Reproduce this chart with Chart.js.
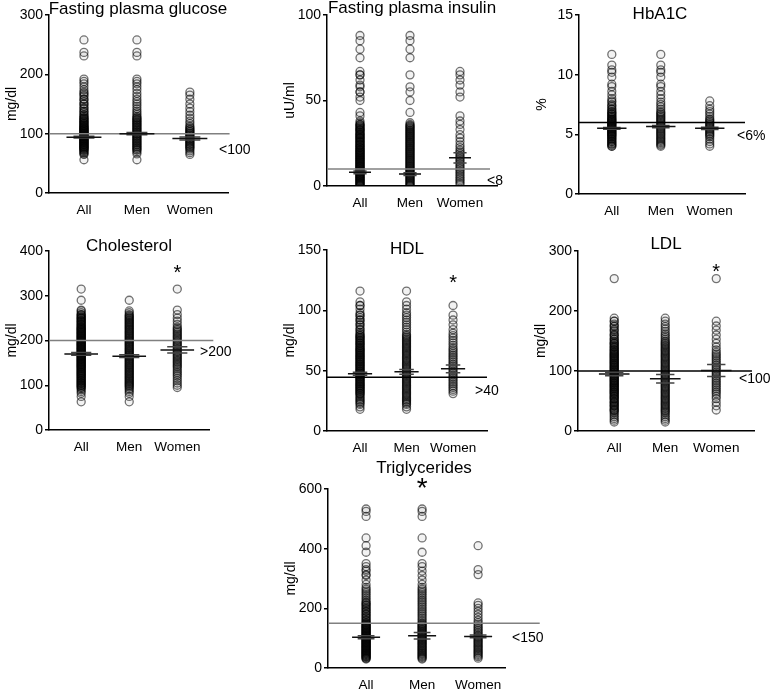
<!DOCTYPE html>
<html>
<head>
<meta charset="utf-8">
<title>Glucose, insulin, HbA1C and lipids by sex</title>
<script src="https://cdn.jsdelivr.net/npm/chart.js@4.4.1/dist/chart.umd.min.js"></script>
<style>
  body { margin: 0; background: #fff; overflow: hidden; }
  #wrap { position: relative; width: 777px; height: 689px; overflow: hidden; }
  #wrap canvas { position: absolute; left: 0; top: 0; }
</style>
</head>
<body>
<div id="wrap"></div>
<script>
const groups = ['All', 'Men', 'Women'];

// Fasting plasma glucose (mg/dl)
const glucoseTicks = [0, 100, 200, 300];
const glucoseMen = [258, 237, 231, 192, 188, 184, 179, 174, 168, 163, 158, 154, 150, 146, 142, 138, 135, 132, 129, 127, 126, 124, 123, 121, 120, 118, 117, 115, 114, 112, 111, 109, 108, 106, 105, 103, 102, 100, 99, 97, 96, 94, 93, 91, 90, 88, 87, 85, 84, 82, 81, 79, 78, 76, 75, 73, 72, 69, 66, 56];
const glucoseWomen = [170, 165, 158, 150, 143, 137, 131, 126, 121, 117, 113, 111, 109, 107, 106, 104, 103, 101, 100, 98, 97, 95, 94, 92, 91, 89, 88, 86, 85, 83, 82, 80, 79, 77, 76, 74, 71, 68, 65];
const glucoseMean = [94, 100, 92];
const glucoseSem = [1.5, 2, 2.5];
const glucoseRef = 100;

// Fasting plasma insulin (uU/ml)
const insulinTicks = [0, 50, 100];
const insulinMen = [88, 85, 80, 75, 65, 58, 55, 50, 43, 37, 36, 35.5, 35, 34.5, 34, 33.5, 33, 32.5, 32, 31.5, 31, 30.5, 30, 29.5, 29, 28.5, 28, 27.5, 27, 26.5, 26, 25.5, 25, 24.5, 24, 23.5, 23, 22.5, 22, 21.5, 21, 20.5, 20, 19.5, 19, 18.5, 18, 17.5, 17, 16.5, 16, 15.5, 15, 14.5, 14, 13.5, 13, 12.5, 12, 11.5, 11, 10.5, 10, 9.5, 9, 8.5, 8, 7.5, 7, 6.5, 6, 5.5, 5, 4.5, 4, 3.5, 3, 2.5, 2, 1.5, 1, 0.5, 0];
const insulinWomen = [67, 65, 62, 59, 55, 52, 41, 38, 36, 33, 30, 28, 26, 24, 22.5, 21, 20, 19, 18, 17, 16, 15, 14, 13, 12, 11, 10, 9, 8, 7, 6, 5, 4, 3, 2, 1];
const insulinMean = [8, 7, 16.5];
const insulinSem = [0.8, 0.8, 3];
const insulinRef = 10;

// HbA1C (%)
const hba1cTicks = [0, 5, 10, 15];
const hba1cMen = [11.7, 10.8, 10.4, 10.2, 9.8, 9.2, 9.0, 8.6, 8.3, 8.0, 7.7, 7.5, 7.3, 7.1, 6.9, 6.8, 6.7, 6.6, 6.5, 6.4, 6.3, 6.2, 6.1, 6.0, 5.9, 5.8, 5.7, 5.6, 5.5, 5.4, 5.3, 5.2, 5.1, 5.0, 4.9, 4.8, 4.7, 4.6, 4.5, 4.4, 4.3, 4.2, 4.1, 4.0];
const hba1cWomen = [7.8, 7.4, 7.1, 6.9, 6.7, 6.5, 6.3, 6.2, 6.1, 6.0, 5.9, 5.8, 5.7, 5.6, 5.5, 5.4, 5.3, 5.2, 5.1, 5.0, 4.9, 4.8, 4.6, 4.4, 4.2, 4.0];
const hba1cMean = [5.5, 5.65, 5.5];
const hba1cSem = [0.08, 0.1, 0.1];
const hba1cRef = 6;

// Cholesterol (mg/dl)
const cholTicks = [0, 100, 200, 300, 400];
const cholMen = [290, 266, 262, 258, 256, 254, 252, 250, 248, 246, 244, 242, 240, 238, 236, 234, 232, 230, 228, 226, 224, 222, 220, 218, 216, 214, 212, 210, 208, 206, 204, 202, 200, 198, 196, 194, 192, 190, 188, 186, 184, 182, 180, 178, 176, 174, 172, 170, 168, 166, 164, 162, 160, 158, 156, 154, 152, 150, 148, 146, 144, 142, 140, 138, 136, 134, 132, 130, 128, 126, 124, 122, 120, 118, 116, 114, 112, 110, 108, 106, 104, 102, 100, 98, 96, 93, 90, 86, 82, 75, 63];
const cholWomen = [315, 268, 258, 250, 243, 236, 230, 227, 224, 221, 218, 215, 212, 209, 206, 203, 200, 197, 194, 191, 188, 185, 182, 179, 176, 173, 170, 167, 164, 161, 158, 155, 152, 149, 146, 143, 140, 136, 132, 128, 124, 120, 115, 110, 105, 100, 95];
const cholMean = [170, 165, 179];
const cholSem = [3, 3, 7];
const cholRef = 200;
const cholStar = [2, 364];

// HDL (mg/dl)
const hdlTicks = [0, 50, 100, 150];
const hdlMen = [116, 107, 104, 101, 98, 96, 94, 92, 90, 88, 86, 84, 82, 80, 79, 78, 77, 76, 75, 74, 73, 72, 71, 70, 69, 68, 67, 66, 65, 64, 63, 62, 61, 60, 59, 58, 57, 56, 55, 54, 53, 52, 51, 50, 49, 48, 47, 46, 45, 44, 43, 42, 41, 40, 39, 38, 37, 36, 35, 34, 33, 32, 31, 30, 29, 28, 27, 26, 25, 24, 23, 22, 20, 18];
const hdlWomen = [104, 96, 92, 88, 84, 81, 79, 77, 75, 73, 71, 69, 67.5, 66, 64.5, 63, 61.5, 60, 58.5, 57, 55.5, 54, 52.5, 51, 49.5, 48, 46.5, 45, 43.5, 42, 40.5, 39, 37.5, 36, 34.5, 33, 31];
const hdlMean = [47.5, 49, 51.5];
const hdlSem = [1.2, 2, 3.2];
const hdlRef = 44.5;
const hdlStar = [2, 127];

// LDL (mg/dl)
const ldlTicks = [0, 100, 200, 300];
const ldlMen = [188, 183, 178, 174, 170, 166, 162, 159, 156, 153, 150, 148, 146, 144, 142, 140, 138, 136, 134, 132, 130, 128, 126, 124, 122, 120, 118, 116, 114, 112, 110, 108, 106, 104, 102, 100, 98, 96, 94, 92, 90, 88, 86, 84, 82, 80, 78, 76, 74, 72, 70, 68, 66, 64, 62, 60, 58, 56, 54, 52, 50, 48, 46, 44, 42, 40, 38, 36, 34, 32, 30, 27, 24, 21, 18, 15];
const ldlWomen = [254, 183, 175, 168, 160, 153, 146, 140, 135, 131, 128, 125, 122, 119, 116, 113, 110, 107, 104, 101, 98, 95, 92, 89, 86, 83, 80, 77, 74, 71, 68, 65, 62, 58, 54, 48, 42, 35];
const ldlMean = [95, 87, 101];
const ldlSem = [3, 7, 10];
const ldlRef = 100;
const ldlStar = [2, 275];

// Triglycerides (mg/dl)
const trigTicks = [0, 200, 400, 600];
const trigMen = [533, 525, 508, 436, 388, 350, 340, 325, 310, 295, 280, 270, 264, 258, 252, 246, 240, 234, 228, 222, 216, 210, 204, 198, 192, 186, 180, 174, 168, 162, 156, 150, 147, 144, 141, 138, 135, 132, 129, 126, 123, 120, 117, 114, 111, 108, 105, 102, 99, 96, 93, 90, 87, 84, 81, 78, 75, 72, 69, 66, 63, 60, 57, 54, 51, 48, 45, 42, 39, 36, 33, 30];
const trigWomen = [410, 330, 313, 218, 210, 200, 190, 180, 170, 160, 152, 146, 140, 135, 130, 125, 120, 115, 110, 106, 102, 98, 94, 90, 86, 82, 78, 74, 70, 66, 62, 58, 54, 50, 46, 42, 38, 33];
const trigMean = [103, 108, 106];
const trigSem = [5, 11, 5];
const trigRef = 150;
const trigStar = [1, 628];

const FONT = '"Liberation Sans", Arial, Helvetica, sans-serif';
Chart.defaults.font.family = FONT;
Chart.defaults.color = '#000';

const W = 777, H = 720; // canvas is a bit taller than the window so the bottom labels fit
const YW = 45; // fixed width of the y scale box
const XH = 28; // fixed height of the x scale box

const panels = [
  { title: 'Fasting plasma glucose', unit: 'mg/dl', ticks: glucoseTicks, men: glucoseMen, women: glucoseWomen,
    mean: glucoseMean, sem: glucoseSem, ref: glucoseRef, refLabel: '<100', star: null,
    box: [49, 15, 228, 193], xMin: -0.66, xMax: 2.72, refEnd: 2.75, half: 0.33, refColor: '#808080',
    titleAt: [138, 13.5], labelAt: [219, 150] },
  { title: 'Fasting plasma insulin', unit: 'uU/ml', ticks: insulinTicks, men: insulinMen, women: insulinWomen,
    mean: insulinMean, sem: insulinSem, ref: insulinRef, refLabel: '<8', star: null,
    box: [327, 15, 497, 186], xMin: -0.66, xMax: 2.74, refEnd: 2.6, half: 0.22, refColor: '#808080',
    titleAt: [412, 12.7], labelAt: [487, 181] },
  { title: 'HbA1C', unit: '%', ticks: hba1cTicks, men: hba1cMen, women: hba1cWomen,
    mean: hba1cMean, sem: hba1cSem, ref: hba1cRef, refLabel: '<6%', star: null,
    box: [579, 15, 745, 194], xMin: -0.67, xMax: 2.72, refEnd: 2.72, half: 0.3, refColor: '#000',
    titleAt: [660, 19.3], labelAt: [737, 136] },
  { title: 'Cholesterol', unit: 'mg/dl', ticks: cholTicks, men: cholMen, women: cholWomen,
    mean: cholMean, sem: cholSem, ref: cholRef, refLabel: '>200', star: cholStar,
    box: [49, 251, 209, 430], xMin: -0.67, xMax: 2.66, refEnd: 2.75, half: 0.35, refColor: '#808080',
    titleAt: [129, 250.7], labelAt: [200, 352], starSize: 20 },
  { title: 'HDL', unit: 'mg/dl', ticks: hdlTicks, men: hdlMen, women: hdlWomen,
    mean: hdlMean, sem: hdlSem, ref: hdlRef, refLabel: '>40', star: hdlStar,
    box: [327, 250, 487, 431], xMin: -0.71, xMax: 2.73, refEnd: 2.73, half: 0.26, refColor: '#000',
    titleAt: [407, 254], labelAt: [475, 391], starSize: 20 },
  { title: 'LDL', unit: 'mg/dl', ticks: ldlTicks, men: ldlMen, women: ldlWomen,
    mean: ldlMean, sem: ldlSem, ref: ldlRef, refLabel: '<100', star: ldlStar,
    box: [578, 251, 754, 431], xMin: -0.71, xMax: 2.74, refEnd: 2.7, half: 0.3, refColor: '#000',
    titleAt: [666, 249.3], labelAt: [739, 379], starSize: 20 },
  { title: 'Triglycerides', unit: 'mg/dl', ticks: trigTicks, men: trigMen, women: trigWomen,
    mean: trigMean, sem: trigSem, ref: trigRef, refLabel: '<150', star: trigStar,
    box: [328, 489, 505, 668], xMin: -0.68, xMax: 2.48, refEnd: 3.1, half: 0.25, refColor: '#808080',
    titleAt: [424, 472.7], labelAt: [512, 638], starSize: 28 },
];

// short horizontal segments, one per group, split by null gaps
function segments(levels, half) {
  const out = [];
  levels.forEach((y, g) => {
    out.push({ x: g - half, y: y }, { x: g + half, y: y }, { x: g, y: null });
  });
  return out;
}

function buildPanel(p) {
  const canvas = document.createElement('canvas');
  canvas.width = W;
  canvas.height = H;
  document.getElementById('wrap').appendChild(canvas);

  const points = [];
  [p.men.concat(p.women), p.men, p.women].forEach((vals, g) => {
    vals.forEach(v => points.push({ x: g, y: v }));
  });
  const upper = p.mean.map((m, i) => m + p.sem[i]);
  const lower = p.mean.map((m, i) => m - p.sem[i]);
  const [left, top, right, bottom] = p.box;

  new Chart(canvas, {
    type: 'scatter',
    data: {
      datasets: [
        { type: 'line', data: segments(p.mean, p.half), borderColor: '#111', borderWidth: 1.5,
          pointRadius: 0, spanGaps: false, order: 0 },
        { type: 'line', data: segments(upper, p.half * 0.6).concat(segments(lower, p.half * 0.6)),
          borderColor: '#444', borderWidth: 1.5, pointRadius: 0, spanGaps: false, order: 1 },
        { type: 'line', data: [{ x: p.xMin, y: p.ref }, { x: p.refEnd, y: p.ref }],
          borderColor: p.refColor, borderWidth: 1.5, pointRadius: 0, clip: false, order: 2 },
        { data: points, pointRadius: 4, pointBorderWidth: 1.3,
          pointBorderColor: 'rgba(0,0,0,0.55)', pointBackgroundColor: 'rgba(0,0,0,0.05)', order: 3 },
      ],
    },
    options: {
      responsive: false,
      animation: false,
      events: [],
      layout: { padding: { left: left - YW, top: top, right: W - right, bottom: H - bottom - XH } },
      plugins: { legend: { display: false }, tooltip: { enabled: false } },
      scales: {
        x: {
          type: 'linear', min: p.xMin, max: p.xMax,
          afterBuildTicks: s => { s.ticks = groups.map((_, i) => ({ value: i })); },
          afterFit: s => { s.height = XH; },
          ticks: { callback: v => groups[v], font: { size: 13.5 }, padding: 9, autoSkip: false, maxRotation: 0 },
          grid: { display: false, drawTicks: false },
          border: { color: '#000', width: 1.5 },
        },
        y: {
          min: 0, max: p.ticks[p.ticks.length - 1],
          afterBuildTicks: s => { s.ticks = p.ticks.map(v => ({ value: v })); },
          afterFit: s => { s.width = YW; },
          ticks: { font: { size: 14 }, padding: 2 },
          grid: { drawOnChartArea: false, tickLength: 4, color: '#000', lineWidth: 1.5 },
          border: { color: '#000', width: 1.5 },
          title: { display: true, text: p.unit, font: { size: 14 }, padding: 0 },
        },
      },
    },
    plugins: [{
      id: 'panelText',
      afterDraw(chart) {
        const { ctx, scales } = chart;
        ctx.save();
        ctx.fillStyle = '#000';
        ctx.font = '17px ' + FONT;
        ctx.textAlign = 'center';
        ctx.textBaseline = 'alphabetic';
        ctx.fillText(p.title, p.titleAt[0], p.titleAt[1]);

        ctx.font = '14px ' + FONT;
        ctx.textAlign = 'left';
        ctx.textBaseline = 'middle';
        ctx.fillText(p.refLabel, p.labelAt[0], p.labelAt[1]);

        if (p.star) {
          ctx.font = p.starSize + 'px ' + FONT;
          ctx.textAlign = 'center';
          ctx.textBaseline = 'alphabetic';
          ctx.fillText('*', scales.x.getPixelForValue(p.star[0]),
            scales.y.getPixelForValue(p.star[1]) + p.starSize * 0.58);
        }
        ctx.restore();
      },
    }],
  });
}

panels.forEach(buildPanel);
</script>
</body>
</html>
